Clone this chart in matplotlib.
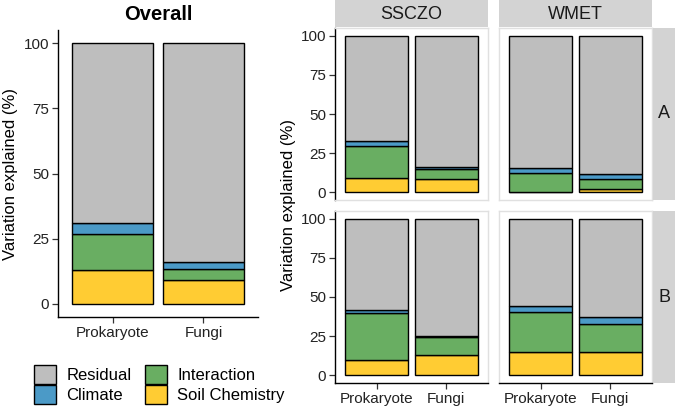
import numpy as np
import matplotlib
matplotlib.use("Agg")
import matplotlib.pyplot as plt
from matplotlib.patches import Patch

plt.rcParams['font.family'] = ['Liberation Sans', 'DejaVu Sans']

groups = ["Prokaryote", "Fungi"]
components = ["Soil Chemistry", "Interaction", "Climate", "Residual"]
colors = {"Residual": "#BEBEBE", "Climate": "#4B9AC7",
          "Interaction": "#69AE62", "Soil Chemistry": "#FFCC33"}

# values (%) per group: Prokaryote, Fungi
overall_soil = [13, 9]
overall_inter = [14, 4.3]
overall_climate = [4, 2.8]
overall_resid = [69, 83.9]

sscizo_a_soil = [9, 8.3]
sscizo_a_inter = [20.6, 6.4]
sscizo_a_climate = [3.4, 1.7]
sscizo_a_resid = [67, 83.6]

wmet_a_soil = [0.2, 2]
wmet_a_inter = [11.9, 6.5]
wmet_a_climate = [3.6, 3]
wmet_a_resid = [84.3, 88.5]

sscizo_b_soil = [9.4, 12.8]
sscizo_b_inter = [30.6, 11.9]
sscizo_b_climate = [1.5, 0.4]
sscizo_b_resid = [58.5, 74.9]

wmet_b_soil = [14.9, 15.1]
wmet_b_inter = [25.3, 17.7]
wmet_b_climate = [3.8, 4.2]
wmet_b_resid = [56, 63]

W, H = 675, 408
fig = plt.figure(figsize=(W / 100, H / 100), dpi=100)


def ax_px(x0, y0, x1, y1):
    return fig.add_axes([x0 / W, 1 - y1 / H, (x1 - x0) / W, (y1 - y0) / H])


def draw_bars(ax, soil, inter, clim, resid):
    x = np.arange(len(groups))
    bottom = np.zeros(len(groups))
    for name, vals in zip(components, [soil, inter, clim, resid]):
        ax.bar(x, vals, 0.9, bottom=bottom, color=colors[name],
               edgecolor="black", linewidth=1.0, zorder=3)
        bottom = bottom + np.array(vals)
    ax.set_xlim(-0.6, 1.6)
    ax.set_ylim(-5, 105)
    ax.set_yticks([0, 25, 50, 75, 100])
    ax.set_xticks(x)
    ax.tick_params(length=4, width=0.9, colors="#333333", labelsize=11,
                   labelcolor="#222222", pad=2.5)


# Overall panel
ax0 = ax_px(58, 30, 258, 317)
draw_bars(ax0, overall_soil, overall_inter, overall_climate, overall_resid)
for s in ["top", "right"]:
    ax0.spines[s].set_visible(False)
for s in ["left", "bottom"]:
    ax0.spines[s].set_linewidth(1.0)
ax0.set_xticklabels(groups)
ax0.set_ylabel("Variation explained (%)", fontsize=12, labelpad=4)
ax0.set_title("Overall", fontsize=14.5, fontweight="bold", pad=7)

# faceted panels
cols = [(335, 488), (499, 652)]
rows = [(28, 200), (211, 383)]
panel_data = {
    (0, 0): (sscizo_a_soil, sscizo_a_inter, sscizo_a_climate, sscizo_a_resid),
    (0, 1): (wmet_a_soil, wmet_a_inter, wmet_a_climate, wmet_a_resid),
    (1, 0): (sscizo_b_soil, sscizo_b_inter, sscizo_b_climate, sscizo_b_resid),
    (1, 1): (wmet_b_soil, wmet_b_inter, wmet_b_climate, wmet_b_resid),
}
col_names = ["SSCZO", "WMET"]
row_names = ["A", "B"]
strip_col = "#D3D3D3"

for (r, c), d in panel_data.items():
    x0, x1 = cols[c]
    y0, y1 = rows[r]
    ax = ax_px(x0, y0, x1, y1)
    draw_bars(ax, *d)
    for s in ax.spines.values():
        s.set_color("#E0E0E0")
        s.set_linewidth(1.0)
    if c == 0:
        ax.spines["left"].set_color("black")
    else:
        ax.tick_params(axis="y", left=False, labelleft=False)
    if r == 1:
        ax.spines["bottom"].set_color("black")
        ax.set_xticklabels(groups)
    else:
        ax.tick_params(axis="x", bottom=False, labelbottom=False)

for c, (x0, x1) in enumerate(cols):
    sax = ax_px(x0, 0, x1, 27)
    sax.set_facecolor(strip_col)
    sax.set_xticks([])
    sax.set_yticks([])
    for s in sax.spines.values():
        s.set_visible(False)
    sax.text(0.5, 0.48, col_names[c], ha="center", va="center",
             fontsize=13, color="#1A1A1A", transform=sax.transAxes)

for r, (y0, y1) in enumerate(rows):
    sax = ax_px(653, y0, 675, y1)
    sax.set_facecolor(strip_col)
    sax.set_xticks([])
    sax.set_yticks([])
    for s in sax.spines.values():
        s.set_visible(False)
    sax.text(0.5, 0.5, row_names[r], ha="center", va="center",
             fontsize=13, color="#1A1A1A", transform=sax.transAxes)

fig.text(288 / W, 1 - 205 / H, "Variation explained (%)", rotation=90,
         ha="center", va="center", fontsize=12)

# legend
order = ["Residual", "Climate", "Interaction", "Soil Chemistry"]
handles = [Patch(facecolor=colors[n], edgecolor="black", linewidth=1.0)
           for n in order]
fig.legend(handles, order, loc="lower left", bbox_to_anchor=(22 / W, -0.018),
           ncol=2, frameon=False, fontsize=12, handlelength=1.35,
           handleheight=1.35, handletextpad=0.6, columnspacing=0.8,
           labelspacing=0.05, borderpad=0.2)

fig.savefig("out.png", dpi=100)
